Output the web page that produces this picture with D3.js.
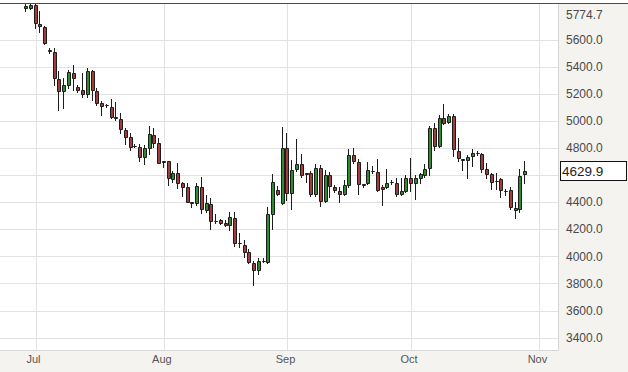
<!DOCTYPE html>
<html>
<head>
<meta charset="utf-8">
<script src="https://cdn.jsdelivr.net/npm/d3@7"></script>
<style>
    body { margin: 0; background: #f4f3ef; }
    svg { display: block; }
</style>
</head>
<body>
<div id="chart"></div>
<script>
// daily OHLC, one candle per session (late Jun .. end Oct)
const open = [5847, 5832, 5855, 5714, 5692, 5519, 5508, 5308, 5220, 5264,
    5353, 5249, 5227, 5198, 5368, 5220, 5131, 5117, 5102, 5028,
    5013, 4932, 4880, 4814, 4806, 4733, 4799, 4895, 4836, 4700,
    4703, 4571, 4615, 4538, 4511, 4401, 4393, 4511, 4342, 4386,
    4261, 4270, 4246, 4231, 4283, 4098, 4083, 4032, 3951, 3899,
    3965, 3958, 4312, 4489, 4393, 4799, 4467, 4644, 4681, 4615,
    4615, 4460, 4652, 4408, 4600, 4511, 4482, 4460, 4526, 4748,
    4696, 4534, 4541, 4630, 4622, 4511, 4511, 4548, 4541, 4460,
    4482, 4578, 4541, 4578, 4600, 4652, 4947, 4814, 5021, 4991,
    5035, 4777, 4718, 4711, 4740, 4762, 4755, 4644, 4608, 4556,
    4571, 4482, 4489, 4355, 4349, 4608]
const high = [5868, 5866, 5870, 5810, 5700, 5537, 5537, 5368, 5316, 5375,
    5412, 5264, 5353, 5390, 5375, 5242, 5146, 5124, 5161, 5139,
    5058, 4947, 4910, 4829, 4829, 4821, 4962, 4947, 4873, 4704,
    4706, 4630, 4689, 4548, 4541, 4402, 4541, 4585, 4452, 4430,
    4312, 4275, 4268, 4327, 4327, 4172, 4120, 4054, 3965, 3988,
    3985, 4364, 4608, 4519, 4955, 4910, 4711, 4865, 4755, 4617,
    4630, 4681, 4674, 4637, 4622, 4526, 4511, 4563, 4792, 4799,
    4718, 4535, 4696, 4666, 4718, 4526, 4644, 4563, 4578, 4578,
    4600, 4725, 4600, 4615, 4681, 4962, 4984, 5043, 5124, 5050,
    5050, 4873, 4719, 4748, 4792, 4777, 4762, 4689, 4615, 4615,
    4578, 4497, 4511, 4401, 4644, 4703]
const low = [5810, 5825, 5685, 5655, 5567, 5500, 5264, 5080, 5094, 5242,
    5227, 5213, 5176, 5176, 5154, 5117, 5043, 5102, 5024, 5006,
    4910, 4829, 4785, 4806, 4703, 4681, 4755, 4806, 4686, 4659,
    4526, 4548, 4504, 4445, 4398, 4364, 4379, 4320, 4327, 4201,
    4246, 4240, 4224, 4194, 4075, 4068, 3995, 3951, 3788, 3870,
    3955, 3951, 4201, 4452, 4386, 4416, 4349, 4630, 4585, 4548,
    4445, 4445, 4371, 4401, 4438, 4475, 4401, 4452, 4511, 4689,
    4460, 4511, 4534, 4615, 4482, 4379, 4504, 4534, 4445, 4452,
    4475, 4482, 4423, 4541, 4585, 4600, 4785, 4806, 4976, 4984,
    4740, 4703, 4637, 4578, 4666, 4748, 4622, 4578, 4497, 4497,
    4438, 4452, 4349, 4283, 4327, 4541]
const close = [5829, 5852, 5722, 5696, 5574, 5515, 5316, 5220, 5264, 5360,
    5316, 5227, 5198, 5368, 5227, 5131, 5109, 5113, 5028, 5021,
    4939, 4880, 4806, 4812, 4733, 4799, 4903, 4836, 4689, 4698,
    4578, 4615, 4541, 4515, 4401, 4395, 4519, 4349, 4393, 4261,
    4259, 4248, 4231, 4290, 4098, 4096, 4032, 3958, 3899, 3965,
    3963, 4312, 4548, 4460, 4799, 4467, 4637, 4681, 4600, 4608,
    4460, 4652, 4408, 4600, 4519, 4489, 4460, 4526, 4748, 4703,
    4534, 4528, 4637, 4628, 4489, 4497, 4541, 4546, 4460, 4482,
    4578, 4541, 4578, 4608, 4644, 4947, 4814, 5021, 4984, 5035,
    4792, 4725, 4714, 4733, 4762, 4760, 4644, 4608, 4548, 4554,
    4489, 4480, 4364, 4340, 4593, 4629.9]

const months = ["Jul", "Aug", "Sep", "Oct", "Nov"]
const monthStart = [2, 29, 55, 81, 108]      // session index of first day of month
const yTicks = [3400, 3600, 3800, 4000, 4200, 4400, 4600, 4800, 5000, 5200, 5400, 5600]
const topLabel = 5774.7
const lastPrice = close[close.length - 1]

const SVGWIDTH = 628, SVGHEIGHT = 372
const plot = {left: 0, top: 4, right: 558, bottom: 350}
const upColor = "#2e8b2e", downColor = "#a33d3a", edgeColor = "#1c1c1c"

let svg = d3.select("#chart").append("svg")
    .attr("width", SVGWIDTH).attr("height", SVGHEIGHT)
    .style("font-family", "'Liberation Sans', Arial, sans-serif")

let x = d3.scaleLinear().domain([-5.47, 111.9]).range([plot.left, plot.right])
let y = d3.scaleLinear().domain([3400, 5600]).range([337.6, 39.5])

// backgrounds
svg.append("rect").attr("width", SVGWIDTH).attr("height", SVGHEIGHT).attr("fill", "#f4f3ef")
svg.append("rect").attr("width", SVGWIDTH).attr("height", plot.top).attr("fill", "#fff")
svg.append("rect")
    .attr("x", plot.left).attr("y", plot.top)
    .attr("width", plot.right - plot.left).attr("height", plot.bottom - plot.top)
    .attr("fill", "#fff")
svg.append("line")
    .attr("x1", 0).attr("x2", SVGWIDTH).attr("y1", 3.5).attr("y2", 3.5)
    .style("stroke", "#4a4a4a").style("stroke-width", 1)

// grid
let grid = svg.append("g")
for (let t of yTicks) {
    let yy = Math.round(y(t)) + 0.5
    grid.append("line")
        .attr("x1", plot.left).attr("x2", plot.right).attr("y1", yy).attr("y2", yy)
        .style("stroke", "#e2e2e2").style("stroke-width", 1)
}
for (let m of monthStart) {
    let xx = Math.round(x(m)) + 0.5
    grid.append("line")
        .attr("x1", xx).attr("x2", xx).attr("y1", plot.top).attr("y2", plot.bottom)
        .style("stroke", "#e2e2e2").style("stroke-width", 1)
}
// plot frame (right + bottom)
svg.append("path")
    .attr("d", "M" + (plot.right + 0.5) + "," + plot.top + "V" + (plot.bottom + 0.5) + "H" + plot.left)
    .attr("fill", "none").style("stroke", "#d6d6d6")

// candles
svg.append("clipPath").attr("id", "plotclip").append("rect")
    .attr("x", plot.left).attr("y", plot.top)
    .attr("width", plot.right - plot.left).attr("height", plot.bottom - plot.top)
let candles = svg.append("g").attr("clip-path", "url(#plotclip)")

for (let i = 0; i < open.length; i++) {
    let px = Math.round(x(i))
    let up = close[i] >= open[i]
    candles.append("line")
        .attr("x1", px - 0.5).attr("x2", px - 0.5)
        .attr("y1", Math.round(y(high[i]))).attr("y2", Math.round(y(low[i])) + 1)
        .style("stroke", edgeColor).style("stroke-width", 1)
    let yt = Math.round(y(Math.max(open[i], close[i]))) + 0.5
    let yb = Math.round(y(Math.min(open[i], close[i]))) + 0.5
    candles.append("path")
        .attr("d", "M" + (px - 1.5) + "," + yt + "H" + (px + 1.5) + "V" + yb + "H" + (px - 1.5) + "Z")
        .attr("fill", up ? upColor : downColor)
        .style("stroke", edgeColor).style("stroke-width", 1)
}

// y labels on the right (the one hidden under the last-price box is skipped)
let ly = Math.round(y(lastPrice))
let yLab = svg.append("g").style("font-size", "12px").attr("fill", "#4a4a4a")
for (let t of yTicks) {
    if (Math.abs(y(t) - ly) < 14) continue
    yLab.append("text").attr("x", 566).attr("y", y(t)).attr("dy", "0.35em").text(t.toFixed(1))
}
yLab.append("text").attr("x", 566).attr("y", y(topLabel) - 1).attr("dy", "0.35em").text(topLabel.toFixed(1))

// last price box
svg.append("rect")
    .attr("x", 560.5).attr("y", ly - 9.5).attr("width", 66).attr("height", 19)
    .attr("fill", "#fff").style("stroke", "#111").style("stroke-width", 1)
svg.append("text")
    .attr("x", 562).attr("y", ly).attr("dy", "0.36em")
    .style("font-size", "13.5px").attr("fill", "#222")
    .text(lastPrice.toFixed(1))

// month labels
let xLab = svg.append("g").style("font-size", "11px").attr("fill", "#555").attr("text-anchor", "middle")
months.forEach(function (m, k) {
    xLab.append("text").attr("x", x(monthStart[k]) - 2).attr("y", 359).attr("dy", "0.35em").text(m)
})
</script>
</body>
</html>
